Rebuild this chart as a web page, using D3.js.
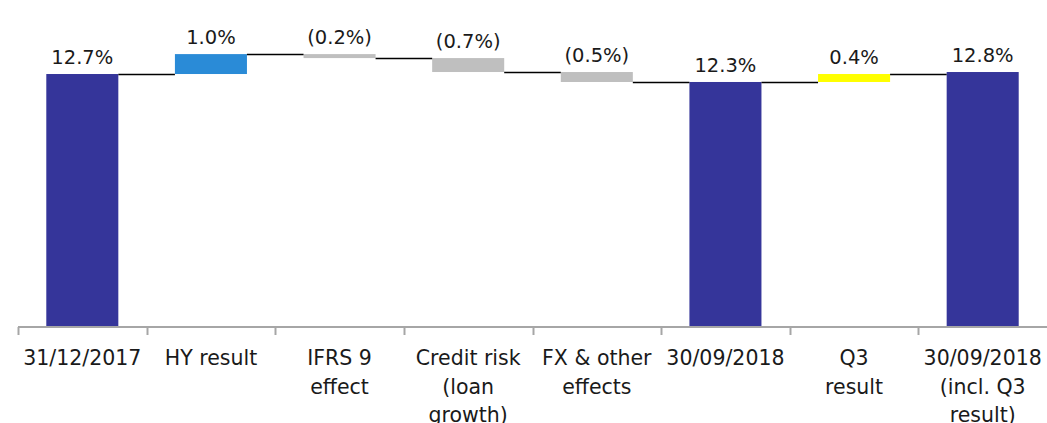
<!DOCTYPE html>
<html>
<head>
<meta charset="utf-8">
<script src="https://cdn.jsdelivr.net/npm/d3@7"></script>
<style>
  html, body { margin: 0; padding: 0; background: #fff; }
  svg { display: block; }
  text { font-family: "DejaVu Sans", sans-serif; fill: #1a1a1a; }
</style>
</head>
<body>
<div id="chart"></div>
<script>
// Capital ratio bridge, 31/12/2017 to 30/09/2018
const categories = [
  "31/12/2017",
  "HY result",
  "IFRS 9\neffect",
  "Credit risk\n(loan\ngrowth)",
  "FX & other\neffects",
  "30/09/2018",
  "Q3\nresult",
  "30/09/2018\n(incl. Q3\nresult)"
];
// totals are absolute levels, steps are changes applied to the running level
const kinds = ["total", "step", "step", "step", "step", "total", "step", "total"];
const values = [12.7, 1.0, -0.2, -0.7, -0.5, 12.3, 0.4, 12.8];
const valueLabels = ["12.7%", "1.0%", "(0.2%)", "(0.7%)", "(0.5%)", "12.3%", "0.4%", "12.8%"];

const W = 1047, H = 423;
const fills = {
  total: "#35359a",
  up: "#2a8bd7",
  down: "#bfbfbf",
  q3: "#ffff00"
};
function fillFor(i) {
  if (kinds[i] === "total") return fills.total;
  if (values[i] < 0) return fills.down;
  return i === 6 ? fills.q3 : fills.up;
}

// running levels: each bar spans [start, end]
let level = 0;
const bars = categories.map((c, i) => {
  let start, end;
  if (kinds[i] === "total") { start = 0; end = values[i]; }
  else { start = level; end = level + values[i]; }
  level = end;
  return { cat: c, i, start, end, label: valueLabels[i] };
});

const svg = d3.select("#chart").append("svg")
  .attr("width", W).attr("height", H);

const axisY = 327;
const x = d3.scaleBand()
  .domain(categories)
  .range([18, W])
  .paddingInner(0.44)
  .paddingOuter(0.22);
const y = d3.scaleLinear()
  .domain([0, 16])
  .range([axisY, axisY - 16 * 19.92]);

// bars
svg.append("g").selectAll("rect")
  .data(bars)
  .join("rect")
  .attr("x", d => x(d.cat))
  .attr("width", x.bandwidth())
  .attr("y", d => y(Math.max(d.start, d.end)))
  .attr("height", d => Math.abs(y(d.start) - y(d.end)))
  .attr("fill", d => fillFor(d.i));

// connectors from each bar's closing level to the next bar
svg.append("g").selectAll("line")
  .data(bars.slice(0, -1))
  .join("line")
  .attr("x1", d => x(d.cat) + x.bandwidth())
  .attr("x2", d => x(categories[d.i + 1]))
  .attr("y1", d => Math.round(y(d.end)) + 0.5)
  .attr("y2", d => Math.round(y(d.end)) + 0.5)
  .attr("stroke", "#000")
  .attr("stroke-width", 1.3);

// value labels above each bar
svg.append("g").selectAll("text")
  .data(bars)
  .join("text")
  .attr("x", d => x(d.cat) + x.bandwidth() / 2)
  .attr("y", d => y(Math.max(d.start, d.end)) - 10)
  .attr("text-anchor", "middle")
  .attr("font-size", 19.5)
  .text(d => d.label);

// category axis with ticks on band boundaries
const gap = x.step() - x.bandwidth();
const axis = svg.append("g");
axis.append("line")
  .attr("x1", x.range()[0]).attr("x2", x.range()[1])
  .attr("y1", axisY).attr("y2", axisY)
  .attr("stroke", "#a6a6a6").attr("stroke-width", 2);
axis.selectAll("line.tick")
  .data(categories)
  .join("line")
  .attr("class", "tick")
  .attr("x1", d => Math.round(x(d) - gap / 2) + 0.5)
  .attr("x2", d => Math.round(x(d) - gap / 2) + 0.5)
  .attr("y1", axisY).attr("y2", axisY + 8)
  .attr("stroke", "#a6a6a6").attr("stroke-width", 2);

const labels = axis.selectAll("text")
  .data(categories)
  .join("text")
  .attr("text-anchor", "middle")
  .attr("font-size", 20.5)
  .attr("transform", d => `translate(${x(d) + x.bandwidth() / 2},365)`);
labels.selectAll("tspan")
  .data(d => d.split("\n"))
  .join("tspan")
  .attr("x", 0)
  .attr("y", (d, k) => k * 28.5)
  .text(d => d);
</script>
</body>
</html>
